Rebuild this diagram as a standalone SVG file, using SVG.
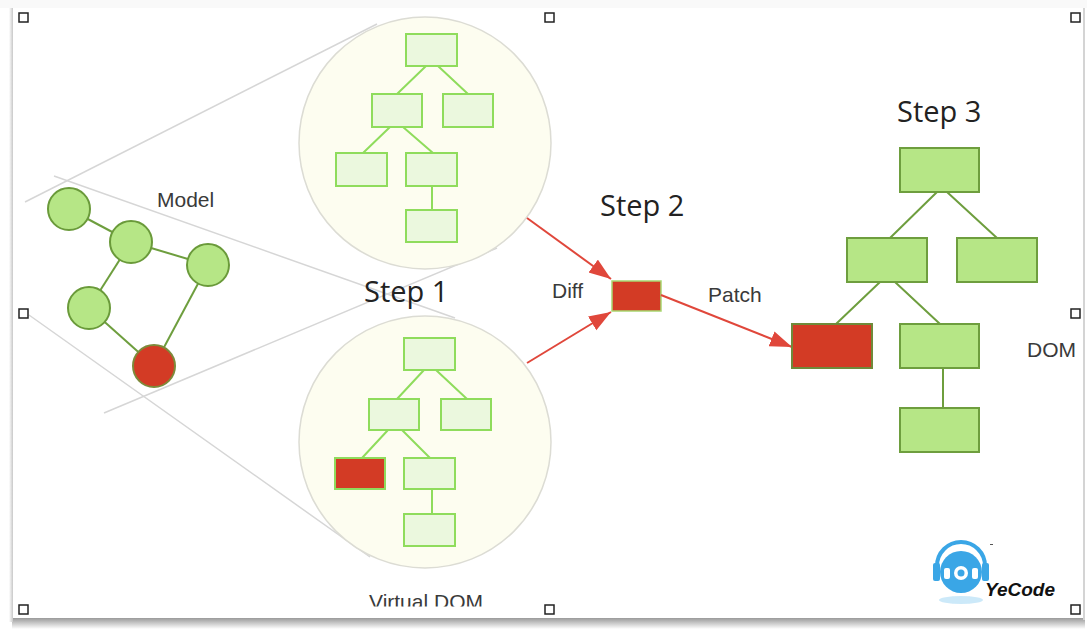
<svg xmlns="http://www.w3.org/2000/svg" width="1087" height="630" viewBox="0 0 1087 630">
<style>
.lbl{font-family:"Liberation Sans",Arial,sans-serif;font-size:21px;fill:#3a3a3a}
.step{font-family:"Open Sans","Noto Sans",sans-serif;font-size:29px;fill:#222}
.cone{stroke:#d6d6d6;stroke-width:1.5;fill:none}
.zc{fill:#fdfdf0;stroke:#dcdcd4;stroke-width:1.5}
.vb{fill:#ebf8de;stroke:#8fdc5c;stroke-width:2}
.vl{stroke:#8fdc5c;stroke-width:2;fill:none}
.db{fill:#b6e686;stroke:#6e9e3e;stroke-width:2}
.dl{stroke:#6e9e3e;stroke-width:2;fill:none}
.red{fill:#d33b25}
.mn{fill:#b6e686;stroke:#6a9a3a;stroke-width:2}
.arr{stroke:#e0473b;stroke-width:2;fill:none;marker-end:url(#ah)}
.hd{fill:#fff;stroke:#222;stroke-width:1.5}
</style>
<defs>
<marker id="ah" markerUnits="userSpaceOnUse" markerWidth="24" markerHeight="18" refX="22" refY="8" orient="auto">
<path d="M0,0 L22,8 L0,16 Z" fill="#e0473b"/>
</marker>
<linearGradient id="shb" x1="0" y1="0" x2="0" y2="1">
<stop offset="0" stop-color="#9a9a9a"/>
<stop offset="1" stop-color="#ffffff"/>
</linearGradient>
<linearGradient id="shl" x1="0" y1="0" x2="1" y2="0">
<stop offset="0" stop-color="#ffffff"/>
<stop offset="1" stop-color="#c8c8c8"/>
</linearGradient>
<clipPath id="vclip"><rect x="300" y="560" width="250" height="46.5"/></clipPath>
</defs>
<rect width="1087" height="630" fill="#fff"/>
<g id="frame">
<rect x="0" y="0" width="1087" height="8" fill="#f9f9f9"/>
<rect x="12" y="618" width="1073" height="11" fill="url(#shb)"/>
<rect x="9" y="8" width="4" height="614" fill="url(#shl)"/>
<rect x="1083" y="8" width="2" height="612" fill="#d4d4d4"/>
</g>
<g id="cone-lines">
<line class="cone" x1="25" y1="202" x2="377" y2="24"/>
<line class="cone" x1="54" y1="176" x2="455" y2="318"/>
<line class="cone" x1="104" y1="413" x2="497" y2="248"/>
<line class="cone" x1="29" y1="315" x2="370" y2="557"/>
</g>
<g id="model">
<g class="dl" stroke="#6a9a3a">
<line x1="69" y1="209" x2="131" y2="242"/>
<line x1="131" y1="242" x2="208" y2="265"/>
<line x1="131" y1="242" x2="89" y2="308"/>
<line x1="89" y1="308" x2="154" y2="366"/>
<line x1="208" y1="265" x2="154" y2="366"/>
</g>
<circle class="mn" cx="69" cy="209" r="21"/>
<circle class="mn" cx="131" cy="242" r="21"/>
<circle class="mn" cx="208" cy="265" r="21"/>
<circle class="mn" cx="89" cy="308" r="21"/>
<circle class="mn red" cx="154" cy="366" r="21" style="fill:#d33b25;stroke:#7d8a3a"/>
<text class="lbl" x="157" y="207">Model</text>
</g>
<g id="new-vdom">
<circle class="zc" cx="425" cy="143" r="126"/>
<path class="vl" d="M426,66 L397,94 M438,66 L468,94 M390,127 L363,153 M403,127 L433,153 M432,186 L432,210"/>
<rect class="vb" x="406" y="34" width="51" height="32"/>
<rect class="vb" x="372" y="94" width="50" height="33"/>
<rect class="vb" x="443" y="94" width="50" height="33"/>
<rect class="vb" x="336" y="153" width="51" height="33"/>
<rect class="vb" x="406" y="153" width="51" height="33"/>
<rect class="vb" x="406" y="210" width="51" height="32"/>
</g>
<g id="old-vdom">
<circle class="zc" cx="425" cy="442" r="126"/>
<path class="vl" d="M424,370 L397,399 M436,370 L467,399 M388,430 L362,458 M402,430 L430,458 M432,489 L432,514"/>
<rect class="vb" x="404" y="338" width="51" height="32"/>
<rect class="vb" x="369" y="399" width="50" height="31"/>
<rect class="vb" x="441" y="399" width="50" height="31"/>
<rect class="vb" x="335" y="458" width="50" height="31" style="fill:#d33b25"/>
<rect class="vb" x="404" y="458" width="51" height="31"/>
<rect class="vb" x="404" y="514" width="51" height="32"/>
<text class="lbl" x="426" y="609" text-anchor="middle" clip-path="url(#vclip)">Virtual DOM</text>
</g>
<g id="step1"><text class="step" x="364" y="302">Step 1</text></g>
<g id="step2"><text class="step" x="600" y="216">Step 2</text></g>
<g id="step3"><text class="step" x="897" y="122">Step 3</text></g>
<g id="diff-node">
<rect x="612" y="281" width="49" height="30" fill="#d33b25" stroke="#a8d870" stroke-width="1.5"/>
</g>
<g id="connectors">
<line class="arr" x1="527" y1="218" x2="611" y2="279"/>
<line class="arr" x1="527" y1="363" x2="611" y2="312"/>
<line class="arr" x1="661" y1="295" x2="792" y2="347"/>
<text class="lbl" x="552" y="298">Diff</text>
<text class="lbl" x="708" y="302">Patch</text>
</g>
<g id="dom">
<path class="dl" d="M937,192 L890,238 M947,192 L997,238 M880,282 L836,324 M895,282 L940,324 M943,368 L943,408"/>
<rect class="db" x="900" y="148" width="79" height="44"/>
<rect class="db" x="847" y="238" width="80" height="44"/>
<rect class="db" x="957" y="238" width="80" height="44"/>
<rect class="db" x="792" y="324" width="80" height="44" style="fill:#d33b25;stroke:#6f8a3a"/>
<rect class="db" x="900" y="324" width="79" height="44"/>
<rect class="db" x="900" y="408" width="79" height="44"/>
<text class="lbl" x="1027" y="357">DOM</text>
</g>
<g id="handles">
<rect class="hd" x="19" y="13" width="9" height="9"/>
<rect class="hd" x="545" y="13" width="9" height="9"/>
<rect class="hd" x="1071" y="13" width="9" height="9"/>
<rect class="hd" x="19" y="309" width="9" height="9"/>
<rect class="hd" x="1071" y="309" width="9" height="9"/>
<rect class="hd" x="19" y="605" width="9" height="9"/>
<rect class="hd" x="545" y="605" width="9" height="9"/>
<rect class="hd" x="1071" y="605" width="9" height="9"/>
</g>
<g id="logo">
<ellipse cx="961" cy="600" rx="22" ry="4" fill="#bfe3f7" opacity="0.8"/>
<path d="M937,578 L937,566 A24,24 0 0 1 985,566 L985,578" fill="none" stroke="#3aa6e6" stroke-width="4"/>
<circle cx="961" cy="572" r="21" fill="#3aa6e6"/>
<rect x="933" y="563" width="7" height="18" rx="2" fill="#3aa6e6"/>
<rect x="982" y="563" width="7" height="18" rx="2" fill="#3aa6e6"/>
<rect x="944" y="568" width="6" height="11" rx="2" fill="#fff"/>
<rect x="972" y="568" width="6" height="11" rx="2" fill="#fff"/>
<circle cx="961" cy="573" r="7" fill="#fff"/>
<circle cx="961" cy="573" r="3.5" fill="#3aa6e6"/>
<rect x="990" y="544" width="3" height="1" fill="#555"/>
<text x="985" y="596" font-family="'Liberation Sans',Arial,sans-serif" font-size="19" font-weight="bold" font-style="italic" fill="#111">YeCode</text>
</g>
</svg>
